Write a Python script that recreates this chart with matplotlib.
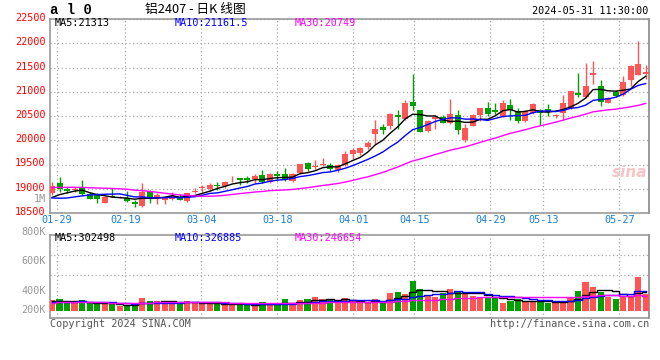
import matplotlib.pyplot as plt
import numpy as np
import pandas as pd
from matplotlib.transforms import ScaledTranslation

# trading days shown (MM-DD), 2024-01-26 .. 2024-05-31
dates = ["01-26", "01-29", "01-30", "01-31", "02-01", "02-02", "02-05", "02-06", "02-07", "02-08",
         "02-19", "02-20", "02-21", "02-22", "02-23", "02-26", "02-27", "02-28", "02-29", "03-01",
         "03-04", "03-05", "03-06", "03-07", "03-08", "03-11", "03-12", "03-13", "03-14", "03-15",
         "03-18", "03-19", "03-20", "03-21", "03-22", "03-25", "03-26", "03-27", "03-28", "03-29",
         "04-01", "04-02", "04-03", "04-08", "04-09", "04-10", "04-11", "04-12", "04-15", "04-16",
         "04-17", "04-18", "04-19", "04-22", "04-23", "04-24", "04-25", "04-26", "04-29", "04-30",
         "05-06", "05-07", "05-08", "05-09", "05-10", "05-13", "05-14", "05-15", "05-16", "05-17",
         "05-20", "05-21", "05-22", "05-23", "05-24", "05-27", "05-28", "05-29", "05-30", "05-31"]

opens = [18906, 19119, 18988, 18974, 19022, 18885, 18885, 18713, 18851, 18820,
         18816, 18734, 18644, 18953, 18789, 18768, 18795, 18837, 18747, 18940,
         19016, 18987, 19082, 19055, 19192, 19226, 19213, 19192, 19274, 19137,
         19308, 19295, 19158, 19315, 19534, 19446, 19500, 19500, 19384, 19480,
         19707, 19741, 19865, 20119, 20264, 20291, 20511, 20428, 20786, 20614,
         20188, 20428, 20483, 20360, 20511, 20002, 20291, 20518, 20655, 20621,
         20500, 20724, 20602, 20404, 20554, 20622, 20643, 20500, 20554, 20656,
         20977, 20895, 21352, 21113, 20772, 20997, 20943, 21236, 21352, 21359]
highs = [19132, 19249, 19043, 19029, 19180, 18940, 18919, 18851, 19015, 18860,
         18960, 18768, 19112, 18974, 18919, 18850, 18940, 18885, 18919, 19008,
         19069, 19124, 19137, 19158, 19260, 19226, 19260, 19295, 19377, 19329,
         19363, 19432, 19329, 19514, 19548, 19603, 19637, 19534, 19514, 19774,
         19844, 19865, 19982, 20408, 20325, 20566, 20614, 20820, 21376, 20634,
         20408, 20518, 20511, 20854, 20634, 20325, 20531, 20669, 20792, 20758,
         20827, 20847, 20656, 20622, 20772, 20636, 20745, 20540, 20929, 21011,
         21386, 21591, 21632, 21236, 20895, 21031, 21318, 21543, 22054, 21543]
lows = [18871, 18940, 18919, 18933, 18864, 18782, 18713, 18700, 18823, 18800,
        18734, 18617, 18630, 18700, 18686, 18686, 18768, 18768, 18734, 18906,
        18932, 18952, 18973, 19021, 19137, 19069, 19124, 19124, 19124, 19124,
        19158, 19158, 19137, 19295, 19363, 19398, 19466, 19363, 19343, 19466,
        19604, 19686, 19824, 19913, 20119, 20236, 20222, 20408, 20621, 20167,
        20167, 20236, 20346, 20325, 20119, 19961, 20291, 20394, 20497, 20531,
        20472, 20418, 20363, 20384, 20540, 20315, 20499, 20452, 20418, 20636,
        20895, 20861, 21168, 20704, 20772, 20895, 20909, 21113, 21352, 21270]
closes = [19057, 18988, 18947, 18981, 18885, 18796, 18789, 18837, 18830, 18830,
          18747, 18679, 18940, 18816, 18871, 18816, 18850, 18768, 18919, 18953,
          19034, 19075, 19048, 19137, 19199, 19171, 19171, 19260, 19144, 19308,
          19260, 19192, 19295, 19500, 19411, 19452, 19507, 19398, 19480, 19726,
          19796, 19831, 19934, 20222, 20209, 20531, 20483, 20758, 20703, 20167,
          20394, 20483, 20360, 20531, 20209, 20257, 20511, 20655, 20531, 20580,
          20772, 20622, 20404, 20602, 20745, 20568, 20575, 20507, 20772, 21011,
          20943, 21113, 21386, 20793, 20861, 20909, 21202, 21522, 21563, 21400]
# volume, thousand lots
volumes = [179, 195, 122, 122, 179, 122, 112, 112, 105, 78,
           95, 112, 212, 162, 162, 162, 122, 117, 162, 145,
           122, 112, 112, 105, 105, 105, 95, 95, 145, 129,
           95, 195, 100, 179, 195, 229, 195, 179, 122, 212,
           162, 134, 134, 195, 134, 296, 317, 279, 496, 362,
           262, 234, 289, 362, 317, 279, 245, 234, 222, 205,
           134, 162, 195, 145, 145, 162, 134, 145, 162, 234,
           329, 479, 396, 312, 222, 195, 245, 245, 568, 279]

# sessions before the window, only needed for the moving averages
pre_close = [18900, 18940, 18980, 18920, 18960, 19000, 18950, 18990, 19000, 19100,
             19180, 19250, 19320, 19380, 19400, 19360, 19300, 19250, 19240, 19230,
             19050, 18900, 18750, 18680, 18625, 18700, 18760, 18800, 18785]
pre_vol = [120, 135, 128, 140, 118, 125, 132, 145, 138, 122, 130, 126, 140, 135, 128,
           120, 133, 138, 127, 124, 131, 136, 129, 142, 134, 148, 155, 150, 153]

tick_dates = ["01-29", "02-19", "03-04", "03-18", "04-01", "04-15", "04-29", "05-13", "05-27"]
price_ticks = [18500, 19000, 19500, 20000, 20500, 21000, 21500, 22000, 22500]

UP = "#ff5555"
DOWN = "#00a000"
MONO = "DejaVu Sans Mono"

n = len(dates)
x = np.arange(n)
cl_all = pd.Series(pre_close + closes)
vol_all = pd.Series(pre_vol + volumes)
pma5 = cl_all.rolling(5).mean().values[-n:]
pma10 = cl_all.rolling(10).mean().values[-n:]
pma30 = cl_all.rolling(30).mean().values[-n:]
vma5 = vol_all.rolling(5).mean().values[-n:]
vma10 = vol_all.rolling(10).mean().values[-n:]
vma30 = vol_all.rolling(30).mean().values[-n:]

W, H = 660, 360
fig = plt.figure(figsize=(6.6, 3.6), dpi=100)


def fx(px):
    return px / W


def fy(py):
    return 1 - py / H


ax = fig.add_axes([fx(50), fy(213), fx(599), 194 / H])
axv = fig.add_axes([fx(50), fy(318), fx(599), 83.3 / H])

colors = [UP if c >= o else DOWN for o, c in zip(opens, closes)]

# candles
ax.vlines(x, lows, highs, colors=colors, lw=1, zorder=3)
body_lo = np.minimum(opens, closes)
body_h = np.maximum(np.abs(np.array(closes) - np.array(opens)), 14)
ax.bar(x, body_h, bottom=body_lo, width=0.8, color=colors, zorder=4)
ax.plot(x, pma5, color="black", lw=1, zorder=5)
ax.plot(x, pma10, color="#0000ff", lw=1, zorder=5)
ax.plot(x, pma30, color="#ff00ff", lw=1, zorder=5)

# volume
axv.bar(x, volumes, width=0.82, color=colors, zorder=3)
axv.plot(x, vma5, color="black", lw=1, drawstyle="steps-mid", zorder=4)
axv.plot(x, vma10, color="#0000ff", lw=1, drawstyle="steps-mid", zorder=4)
axv.plot(x, vma30, color="#ff00ff", lw=1, drawstyle="steps-mid", zorder=4)

# grid positions run on a slightly wider step than the candles
tick_pos = [dates.index(d) * 1.0113 - 0.346 for d in tick_dates]

for a in (ax, axv):
    a.set_xlim(-0.27, 79.44)
    a.set_xticks(tick_pos)
    a.grid(True, ls=(0, (1, 2)), color="#aaaaaa", lw=0.9)
    a.tick_params(length=0)
    for s in a.spines.values():
        s.set_color("#999999")
        s.set_linewidth(1.2)
    a.spines["right"].set_color("#888888")
    a.set_facecolor("white")

ax.set_ylim(18500, 22500)
ax.set_yticks(price_ticks)
ax.set_yticklabels([str(v) for v in price_ticks], color="#ff0000", fontsize=7.3, family=MONO)
ax.tick_params(axis="y", pad=3)
for lab in ax.get_yticklabels():
    lab.set_transform(lab.get_transform() + ScaledTranslation(0, 2 / 100, fig.dpi_scale_trans))
ax.set_xticklabels(tick_dates, color="#1a7fd6", fontsize=7.3, family=MONO)
ax.tick_params(axis="x", pad=1.5)

axv.set_ylim(-122, 1269)
axv.set_yticks([596, 930])
axv.set_yticklabels([])
axv.set_xticklabels([])

# texts
fig.text(fx(50), fy(10), "a l 0", fontsize=10, weight="bold", family="Liberation Mono", va="center")
fig.text(fx(195), fy(10), "铝2407 - 日K 线图", fontsize=9.2, ha="center", va="center",
         family=["Noto Sans CJK SC", "DejaVu Sans"])
fig.text(fx(648), fy(11), "2024-05-31 11:30:00", fontsize=7.3, ha="right", va="center", family=MONO)

ma_text = [("MA5:21313", "black", 55), ("MA10:21161.5", "#0000ff", 175), ("MA30:20749", "#ff00ff", 295)]
for t, c, px in ma_text:
    fig.text(fx(px), fy(23.5), t, color=c, fontsize=7.3, va="center", family=MONO)
vma_text = [("MA5:302498", "black", 55), ("MA10:326885", "#0000ff", 175), ("MA30:246654", "#ff00ff", 295)]
for t, c, px in vma_text:
    fig.text(fx(px), fy(238), t, color=c, fontsize=7.3, va="center", family=MONO)

fig.text(fx(46), fy(199), "1M", color="#999999", fontsize=7.3, ha="right", va="center", family=MONO)
for t, py in [("800K", 231.5), ("600K", 261.5), ("400K", 290.7), ("200K", 310)]:
    fig.text(fx(46), fy(py), t, color="#999999", fontsize=7.3, ha="right", va="center", family=MONO)

fig.text(fx(630), fy(172), "sina", color="#f6c4c4", fontsize=11, style="italic", weight="bold",
         ha="center", va="center")
fig.text(fx(50), fy(324), "Copyright 2024 SINA.COM", color="#555555", fontsize=7.3, va="center", family=MONO)
fig.text(fx(649), fy(324), "http://finance.sina.com.cn", color="#555555", fontsize=7.3, ha="right",
         va="center", family=MONO)

fig.savefig("out.png", dpi=100)
